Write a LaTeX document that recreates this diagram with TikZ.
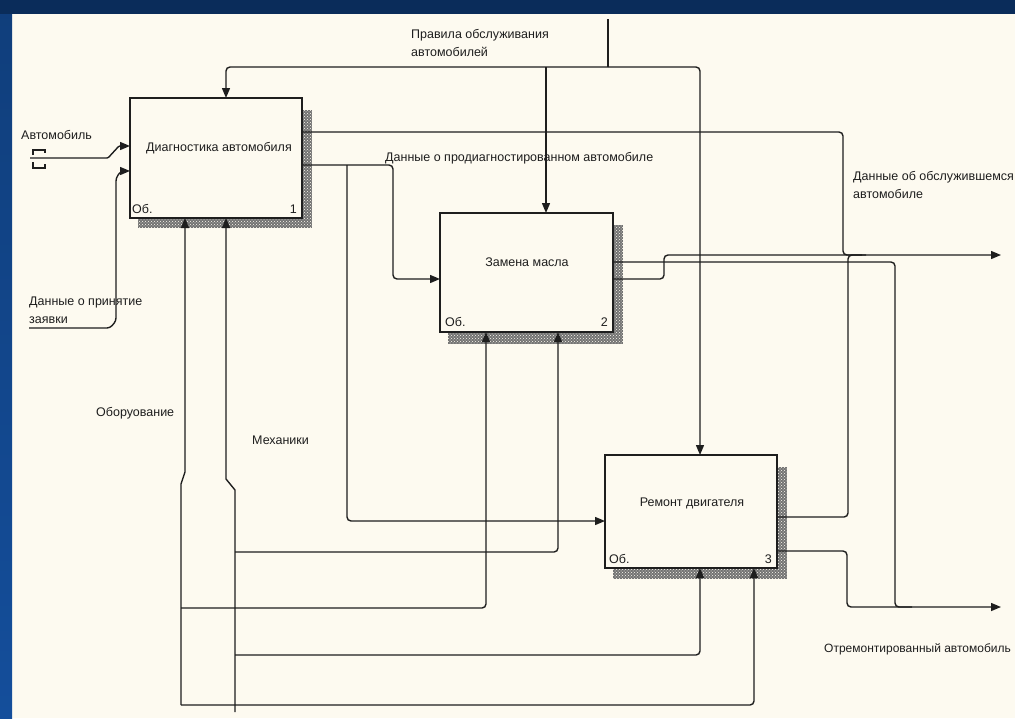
\documentclass[tikz,border=0pt]{standalone}
\usepackage{fontspec}
\setmainfont{Liberation Sans}
\usetikzlibrary{arrows.meta,patterns,calc}
\definecolor{paper}{RGB}{253,250,240}
\definecolor{navy}{RGB}{10,44,90}
\definecolor{sideblue}{RGB}{20,78,155}
\definecolor{ink}{RGB}{30,30,30}
\begin{document}
\begin{tikzpicture}[x=1pt,y=-1pt]
\tikzset{
  box/.style={draw=ink, line width=1.5pt, fill=paper, inner sep=0pt, outer sep=0pt},
  shadowbase/.style={fill=black!55},
  shadowdots/.style={pattern=crosshatch dots, pattern color=paper},
  wire/.style={draw=ink, line width=1.4pt, rounded corners=4pt},
  arr/.style={wire, -{Triangle[length=10pt,width=8pt]}},
  lbl/.style={font=\fontsize{12.5}{17}\selectfont, inner sep=0pt, anchor=base west, text=ink},
  ttl/.style={font=\fontsize{12.5}{17}\selectfont, inner sep=0pt, anchor=base, text=ink},
  num/.style={font=\fontsize{12.5}{17}\selectfont, inner sep=0pt, anchor=base east, text=ink}
}
\useasboundingbox (0,0) rectangle (1015,718);
% background
\fill[paper] (0,0) rectangle (1015,718);
\fill[navy] (0,0) rectangle (1015,14);
\shade[top color=sideblue!80!black, bottom color=sideblue] (0,14) rectangle (12,718);

% shadows
\foreach \a/\b in {{(302,110)}/{(312,228)}, {(138,218)}/{(312,228)},
                   {(613,225)}/{(623,344)}, {(448,332)}/{(623,344)},
                   {(777,467)}/{(787,579)}, {(613,568)}/{(787,579)}}{
  \fill[shadowbase] \a rectangle \b;
  \fill[shadowdots] \a rectangle \b;
}

% boxes
\node[box, minimum width=172pt, minimum height=120pt] (b1) at (216,158) {};
\node[box, minimum width=173pt, minimum height=119pt] (b2) at (526.5,272.5) {};
\node[box, minimum width=172pt, minimum height=113pt] (b3) at (691,511.5) {};

\node[ttl] (t1) at (219,151) {Диагностика автомобиля};
\node[lbl] (o1) at (132,213) {Об.};
\node[num] (n1) at (297,213) {1};
\node[ttl] (t2) at (527,266) {Замена масла};
\node[lbl] (o2) at (445,326) {Об.};
\node[num] (n2) at (608,326) {2};
\node[ttl] (t3) at (692,506) {Ремонт двигателя};
\node[lbl] (o3) at (609,563) {Об.};
\node[num] (n3) at (772,563) {3};

% control
\coordinate (ctop) at (608,19);
\coordinate (cj) at (608,67);
\draw[wire] (ctop) -- (cj);
\draw[arr] (cj) -- (226,67) -- (b1.north -| 226,0);
\draw[arr] (cj) -- (700,67) -- (b3.north -| 700,0);
\draw[arr] (546,67) -- (b2.north -| 546,0);

% outputs
\coordinate (oA) at (1001,255);
\coordinate (oB) at (1001,607);
\draw[wire] (b1.east |- 0,132) -- (843,132) -- (843,255) -- (862,255);
\draw[arr] (b2.east |- 0,279) -- (664,279) -- (664,255) -- (oA);
\draw[wire] (b3.east |- 0,517) -- (848,517) -- (848,255) -- (866,255);
\draw[wire] (b2.east |- 0,262) -- (895,262) -- (895,607) -- (912,607);
\draw[arr] (b3.east |- 0,551) -- (847,551) -- (847,607) -- (oB);

% diagnosed data
\draw[arr] (b1.east |- 0,165) -- (393,165) -- (393,279) -- (b2.west |- 0,279);
\draw[arr] (347,165) -- (347,521) -- (b3.west |- 0,521);

% inputs of box 1
\coordinate (in1) at (30,158);
\draw[arr, rounded corners=1pt] (in1) -- (108,158) -- (119,146) -- (b1.west |- 0,146);
\draw[draw=ink, line width=1.2pt] (33,155) -- (33,150) -- (45,150) -- (45,153);
\draw[draw=ink, line width=1.2pt] (33,162) -- (33,168) -- (45,168) -- (45,164);
\coordinate (in2) at (29,328);
\draw[arr, rounded corners=3pt] (in2) -- (110,328) -- (116,321) -- (116,178) -- (121,171) -- (b1.west |- 0,171);

% mechanisms
\coordinate (m1) at (181,705);
\draw[arr, rounded corners=0pt] (m1) -- (181,484) -- (185,472) -- (b1.south -| 185,0);
\draw[arr] (m1) -- (754,705) -- (b3.south -| 754,0);
\draw[arr] (181,608) -- (486,608) -- (b2.south -| 486,0);
\coordinate (m2) at (235,712);
\draw[arr, rounded corners=0pt] (m2) -- (235,490) -- (226,479) -- (b1.south -| 226,0);
\draw[arr] (235,552) -- (558,552) -- (b2.south -| 558,0);
\draw[arr] (235,655) -- (700,655) -- (b3.south -| 700,0);

% labels
\node[lbl] (lA) at (21,139) {Автомобиль};
\node[lbl] (lZ1) at (29,305) {Данные о принятие};
\node[lbl] (lZ2) at (29,323) {заявки};
\node[lbl] (lO) at (96,416) {Оборуование};
\node[lbl] (lM) at (252,444) {Механики};
\node[lbl] (lP1) at (411,38) {Правила обслуживания};
\node[lbl] (lP2) at (411,56) {автомобилей};
\node[lbl] (lD) at (385,161) {Данные о продиагностированном автомобиле};
\node[lbl] (lS1) at (853,180) {Данные об обслужившемся};
\node[lbl] (lS2) at (853,198) {автомобиле};
\node[lbl, font=\fontsize{12}{17}\selectfont] (lR) at (824,652) {Отремонтированный автомобиль};
\end{tikzpicture}
\end{document}
